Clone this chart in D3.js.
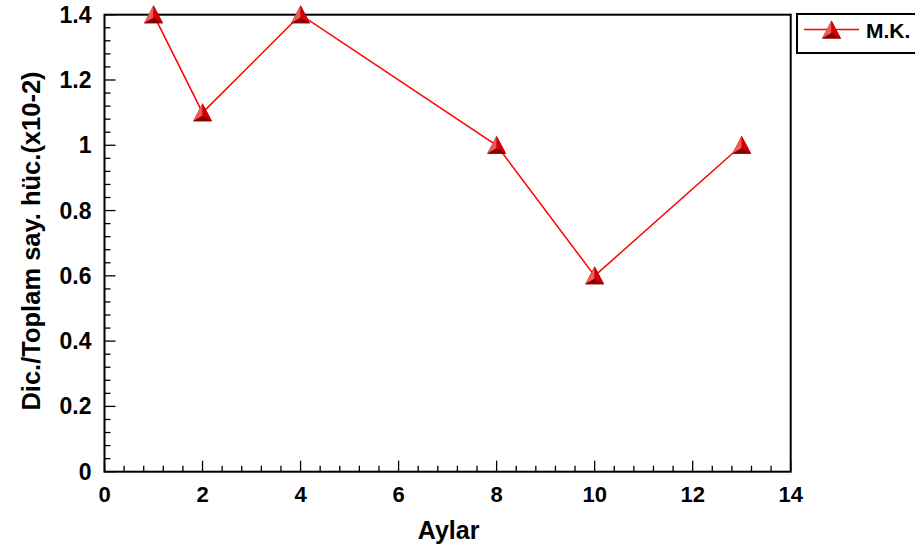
<!DOCTYPE html>
<html>
<head>
<meta charset="utf-8">
<script src="https://cdn.jsdelivr.net/npm/d3@7"></script>
<style>
  html, body { margin: 0; padding: 0; background: #fff; }
  svg { display: block; font-family: "Liberation Sans", Arial, sans-serif; }
</style>
</head>
<body>
<svg id="chart" width="915" height="548"></svg>
<script>
// data
const months = [1, 2, 4, 8, 10, 13];
const ratios = [1.4, 1.1, 1.4, 1.0, 0.6, 1.0];
const xTicks = [0, 2, 4, 6, 8, 10, 12, 14];
const yTicks = [0, 0.2, 0.4, 0.6, 0.8, 1, 1.2, 1.4];
const seriesName = 'M.K.';

const svg = d3.select('#chart');
const pL = 104.5, pR = 790.7, pT = 14.7, pB = 471.7;

const x = d3.scaleLinear().domain([0, 14]).range([pL, pR]);
const y = d3.scaleLinear().domain([0, 1.4]).range([pB, pT]);

// frame
svg.append('rect')
  .attr('x', pL).attr('y', pT)
  .attr('width', pR - pL).attr('height', pB - pT)
  .attr('fill', 'none').attr('stroke', '#000').attr('stroke-width', 2);

// ticks, inside the frame
const g = svg.append('g').attr('stroke', '#000').attr('stroke-width', 1.3);
d3.range(0, 14.001, 0.4).forEach(v => {
  const major = xTicks.some(t => Math.abs(t - v) < 1e-6);
  g.append('line').attr('x1', x(v)).attr('x2', x(v))
    .attr('y1', pB).attr('y2', pB - (major ? 11 : 6));
});
d3.range(0, 1.4001, 0.04).forEach(v => {
  const major = yTicks.some(t => Math.abs(t - v) < 1e-6);
  g.append('line').attr('y1', y(v)).attr('y2', y(v))
    .attr('x1', pL).attr('x2', pL + (major ? 11 : 6));
});

// tick labels
svg.append('g').selectAll('text').data(xTicks).join('text')
  .attr('x', d => x(d)).attr('y', pB + 30)
  .attr('text-anchor', 'middle')
  .attr('font-size', 22).attr('font-weight', 'bold')
  .text(d => d);
svg.append('g').selectAll('text').data(yTicks).join('text')
  .attr('x', pL - 13).attr('y', d => y(d) + 8)
  .attr('text-anchor', 'end')
  .attr('font-size', 23).attr('font-weight', 'bold')
  .text(d => d3.format('~g')(d));

// axis titles
svg.append('text')
  .attr('x', (pL + pR) / 2 + 1).attr('y', 539)
  .attr('text-anchor', 'middle')
  .attr('font-size', 25).attr('font-weight', 'bold')
  .text('Aylar');
svg.append('text')
  .attr('transform', 'translate(40,241) rotate(-90)')
  .attr('text-anchor', 'middle')
  .attr('font-size', 25.5).attr('font-weight', 'bold')
  .text('Dic./Toplam say. hüc.(x10-2)');

// shaded triangle marker
function marker(sel) {
  const w = 9.5, hUp = 9.5, hDn = 8.5, c = [0, 3];
  sel.append('polygon').attr('points', `0,${-hUp} ${-w},${hDn} ${w},${hDn}`).attr('fill', '#a00000');
  sel.append('polygon').attr('points', `0,${-hUp} ${-w},${hDn} ${c}`).attr('fill', '#f05a5a');
  sel.append('polygon').attr('points', `0,${-hUp} ${w},${hDn} ${c}`).attr('fill', '#d40000');
  sel.append('polygon').attr('points', `${-w},${hDn} ${w},${hDn} ${c}`).attr('fill', '#8a0000');
}

const pts = months.map((m, i) => [m, ratios[i]]);
svg.append('path')
  .attr('d', d3.line().x(d => x(d[0])).y(d => y(d[1]))(pts))
  .attr('fill', 'none').attr('stroke', '#ff0000').attr('stroke-width', 1.5);

svg.append('g').selectAll('g').data(pts).join('g')
  .attr('transform', d => `translate(${x(d[0])},${y(d[1])})`)
  .each(function () { marker(d3.select(this)); });

// legend
const lg = svg.append('g');
lg.append('rect').attr('x', 797).attr('y', 14).attr('width', 130).attr('height', 39)
  .attr('fill', '#fff').attr('stroke', '#000').attr('stroke-width', 2);
lg.append('line').attr('x1', 804).attr('x2', 859).attr('y1', 29.5).attr('y2', 29.5)
  .attr('stroke', '#ff0000').attr('stroke-width', 1.5);
lg.append('g').attr('transform', 'translate(831.5,30)').call(marker);
lg.append('text').attr('x', 866).attr('y', 37.5)
  .attr('font-size', 21).attr('font-weight', 'bold').text(seriesName);
</script>
</body>
</html>
